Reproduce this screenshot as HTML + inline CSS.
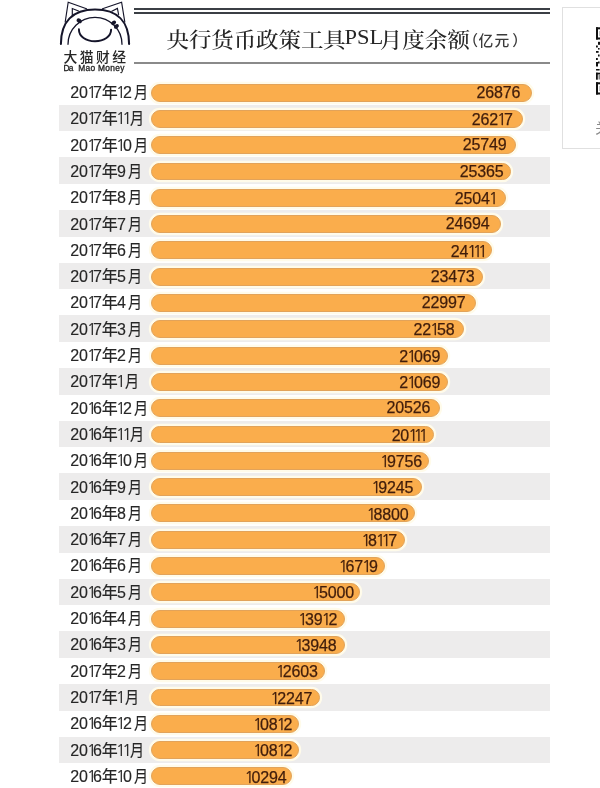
<!DOCTYPE html>
<html><head><meta charset="utf-8">
<style>
*{margin:0;padding:0;box-sizing:border-box}
html,body{width:600px;height:788px;overflow:hidden;background:#fff}
body{position:relative;font-family:"Liberation Sans","Noto Sans CJK SC",sans-serif}
#w{position:absolute;left:0;top:0;width:600px;height:788px;will-change:transform}
.st{position:absolute;left:58.6px;width:491.5px;height:26.5px;background:#edecec}
.bar{position:absolute;left:151px;height:17.9px;border-radius:9px;background:#faad4c;border:1.3px solid #e2a35a;box-shadow:0 0 0 2.2px #fffbea}
.lb{position:absolute;left:70.2px;height:20px;line-height:20px;font-size:16px;color:#262626;white-space:nowrap;-webkit-text-stroke:0.15px #262626}
.lb b,.lb u{font-weight:normal;font-family:"Liberation Sans","Noto Sans CJK SC",sans-serif;text-decoration:none}
.lb u{display:inline-block;transform:scaleX(0.88);transform-origin:0 50%}
.nm{position:absolute;height:20px;line-height:20px;font-size:16px;letter-spacing:-0.15px;color:#401d0b;white-space:nowrap;-webkit-text-stroke:0.25px #401d0b}
i{font-style:normal;font-family:"NanumGothic","Liberation Sans",sans-serif}
s{text-decoration:none}
.dl{position:absolute;left:134px;width:416px;height:2px;background:#3b3f45}
.sl{position:absolute;left:134px;width:416px;height:2px;top:62px;background:#8a8a8a}
.t{position:absolute;top:26.8px;font-family:"Liberation Serif","Noto Serif CJK SC",serif;font-weight:500;font-size:22.5px;line-height:30px;color:#262626;white-space:nowrap;transform:scaleY(0.93);transform-origin:0 0}
.t2{position:absolute;top:31px;font-family:"Liberation Sans","Noto Sans CJK SC",sans-serif;font-weight:500;font-size:14.8px;line-height:20px;color:#3a3a3a;white-space:nowrap}
.brand{position:absolute;left:63.6px;top:49.2px;font-family:"Liberation Sans","Noto Sans CJK SC",sans-serif;font-weight:500;font-size:13.8px;line-height:18px;letter-spacing:2.4px;color:#262626;white-space:nowrap}
.en{position:absolute;top:62.8px;font-size:8.4px;line-height:10px;color:#222;font-weight:normal;letter-spacing:-0.15px;white-space:nowrap;-webkit-text-stroke:0.3px #222}
.box{position:absolute;left:562px;top:7.2px;width:60px;height:141.4px;border:1.3px solid #e0e0e0;background:#fff}
.qr{position:absolute;left:596px;top:26.5px}
.gz{position:absolute;left:595.2px;top:119.6px;font-family:"Liberation Sans","Noto Sans CJK SC",sans-serif;font-size:13.5px;line-height:18px;color:#8a8a8a}
</style></head><body><div id="w">
<div class="dl" style="top:8.3px"></div>
<div class="dl" style="top:12px"></div>
<div class="sl"></div>
<div class="t" style="left:166.5px;letter-spacing:-0.1px">央行货币政策工具</div>
<div class="t" style="left:344.5px;font-family:'Liberation Serif',serif;font-weight:normal;transform:scale(1,0.96);transform-origin:0 0;top:22.6px">PSL</div>
<div class="t" style="left:379.7px">月度余</div>
<div class="t" style="left:447.5px">额</div>
<div class="t2" style="left:463.3px">（</div>
<div class="t2" style="left:478.5px">亿</div>
<div class="t2" style="left:494.4px">元</div>
<div class="t2" style="left:512.2px">）</div>
<svg style="position:absolute;left:0;top:0" width="140" height="50" viewBox="0 0 140 50" fill="none" stroke="#15152a" stroke-linecap="round" stroke-linejoin="miter">
<path d="M60.9,44 C60.9,21.6 72.6,9.5 95,9.5 C117.4,9.5 129.1,21.6 129.1,44" stroke-width="2.05"/>
<path d="M68,44.3 A27,27 0 0 1 122,44.3" stroke-width="1.3"/>
<path d="M65.2,22 L68.2,2.2 L86.5,8.8" stroke-width="1.15"/>
<path d="M124.8,22 L121.6,2.2 L102.5,8.8" stroke-width="1.15"/>
<path d="M72.3,15.5 L72.3,8.5 L78.5,11" stroke-width="1.15"/>
<path d="M118.6,14.5 L117.4,8.4 L111.8,11.2" stroke-width="1.15"/>
<path d="M78.9,29.2 C78.9,36.6 86,41.3 95,41.3 C104,41.3 111.1,36.6 111.1,29.6" stroke-width="1.95"/>
<g fill="#15152a" stroke="none">
<ellipse cx="79.2" cy="20.8" rx="2.9" ry="2.1" transform="rotate(35 79.2 20.8)"/>
<ellipse cx="113.6" cy="22.8" rx="2.7" ry="2" transform="rotate(-35 113.6 22.8)"/>
<ellipse cx="116.4" cy="26.4" rx="2.7" ry="2" transform="rotate(-35 116.4 26.4)"/>
</g>
</svg>
<div class="brand">大猫财经</div>
<div class="en" style="left:63.5px;letter-spacing:-0.7px">Da</div><div class="en" style="left:78.3px;letter-spacing:0.25px">Mao</div><div class="en" style="left:98px;letter-spacing:0.3px">Money</div>
<div class="box"></div>
<svg class="qr" width="4" height="70" viewBox="0 0 4 70">
<g fill="#111">
<rect x="0" y="0.3" width="4" height="2"/><rect x="0" y="0.3" width="2" height="12.2"/><rect x="0" y="10.5" width="4" height="2"/><rect x="3.6" y="4" width="0.4" height="5" fill="#777"/>
<rect x="0" y="55.3" width="4" height="2"/><rect x="0" y="55.3" width="2" height="12.2"/><rect x="0" y="65.5" width="4" height="2"/><rect x="3.6" y="59" width="0.4" height="5" fill="#777"/>
<rect x="2" y="14.8" width="2" height="3"/><rect x="0" y="18.5" width="1.8" height="2"/><rect x="2" y="21" width="1.6" height="1.6"/>
<rect x="0" y="24" width="2.6" height="1.8"/><rect x="2" y="27.5" width="1.6" height="2"/><rect x="0" y="31" width="1.8" height="2"/>
<rect x="2" y="34.5" width="1.6" height="2"/><rect x="0" y="35" width="2" height="4.5"/><rect x="0" y="42" width="3.6" height="1.5"/>
<rect x="0" y="45.7" width="4" height="1.8"/><rect x="0" y="45.7" width="1.8" height="7"/><rect x="2.5" y="47.5" width="1.5" height="5" fill="#888"/>
</g></svg>
<div class="gz">关</div>
<div class="st" style="top:104.83px"></div>
<div class="st" style="top:157.49px"></div>
<div class="st" style="top:210.15px"></div>
<div class="st" style="top:262.81px"></div>
<div class="st" style="top:315.47px"></div>
<div class="st" style="top:368.13px"></div>
<div class="st" style="top:420.79px"></div>
<div class="st" style="top:473.45px"></div>
<div class="st" style="top:526.11px"></div>
<div class="st" style="top:578.77px"></div>
<div class="st" style="top:631.43px"></div>
<div class="st" style="top:684.09px"></div>
<div class="st" style="top:736.75px"></div>
<div class="bar" style="top:83.65px;width:381.00px"></div>
<div class="bar" style="top:109.95px;width:371.50px"></div>
<div class="bar" style="top:136.25px;width:365.30px"></div>
<div class="bar" style="top:162.55px;width:359.80px"></div>
<div class="bar" style="top:188.85px;width:354.80px"></div>
<div class="bar" style="top:215.15px;width:349.80px"></div>
<div class="bar" style="top:241.45px;width:341.00px"></div>
<div class="bar" style="top:267.75px;width:331.50px"></div>
<div class="bar" style="top:294.05px;width:325.30px"></div>
<div class="bar" style="top:320.35px;width:312.70px"></div>
<div class="bar" style="top:346.65px;width:297.00px"></div>
<div class="bar" style="top:372.95px;width:297.00px"></div>
<div class="bar" style="top:399.25px;width:289.30px"></div>
<div class="bar" style="top:425.55px;width:282.70px"></div>
<div class="bar" style="top:451.85px;width:277.70px"></div>
<div class="bar" style="top:478.15px;width:270.70px"></div>
<div class="bar" style="top:504.45px;width:264.30px"></div>
<div class="bar" style="top:530.75px;width:254.00px"></div>
<div class="bar" style="top:557.05px;width:233.70px"></div>
<div class="bar" style="top:583.35px;width:208.70px"></div>
<div class="bar" style="top:609.65px;width:193.50px"></div>
<div class="bar" style="top:635.95px;width:193.50px"></div>
<div class="bar" style="top:662.25px;width:173.50px"></div>
<div class="bar" style="top:688.55px;width:168.70px"></div>
<div class="bar" style="top:714.85px;width:147.70px"></div>
<div class="bar" style="top:741.15px;width:147.70px"></div>
<div class="bar" style="top:767.45px;width:140.70px"></div>
<div class="lb" style="top:82.00px">20<i style="margin-left:-0.9px;margin-right:-3.7px;">1</i>7<b style="margin-left:-0.3px;">年</b><i style="margin-left:-1.7px;margin-right:-2.7px;">1</i>2<u style="margin-left:1.7px;">月</u></div>
<div class="nm" style="top:82.70px;right:79.80px">26876</div>
<div class="lb" style="top:108.30px">20<i style="margin-left:-0.9px;margin-right:-3.7px;">1</i>7<b style="margin-left:-0.3px;">年</b><i style="margin-left:-1.7px;margin-right:-2.7px;">1</i><i style="margin-left:-0.9px;margin-right:-3.7px;">1</i><u style="margin-left:2.3px;">月</u></div>
<div class="nm" style="top:109.00px;right:87.30px">262<i style="margin-left:-1.0px;margin-right:-2.6px;">1</i>7</div>
<div class="lb" style="top:134.60px">20<i style="margin-left:-0.9px;margin-right:-3.7px;">1</i>7<b style="margin-left:-0.3px;">年</b><i style="margin-left:-1.7px;margin-right:-2.7px;">1</i>0<u style="margin-left:1.7px;">月</u></div>
<div class="nm" style="top:135.30px;right:93.50px">25749</div>
<div class="lb" style="top:160.90px">20<i style="margin-left:-0.9px;margin-right:-3.7px;">1</i>7<b style="margin-left:-0.3px;">年</b><s style="margin-left:-0.8px;">9</s><u style="margin-left:1.7px;">月</u></div>
<div class="nm" style="top:161.60px;right:96.50px">25365</div>
<div class="lb" style="top:187.20px">20<i style="margin-left:-0.9px;margin-right:-3.7px;">1</i>7<b style="margin-left:-0.3px;">年</b><s style="margin-left:-0.8px;">8</s><u style="margin-left:1.7px;">月</u></div>
<div class="nm" style="top:187.90px;right:104.80px">2504<i style="margin-left:-1.0px;margin-right:-3.2px;">1</i></div>
<div class="lb" style="top:213.50px">20<i style="margin-left:-0.9px;margin-right:-3.7px;">1</i>7<b style="margin-left:-0.3px;">年</b><s style="margin-left:-0.8px;">7</s><u style="margin-left:1.7px;">月</u></div>
<div class="nm" style="top:214.20px;right:110.60px">24694</div>
<div class="lb" style="top:239.80px">20<i style="margin-left:-0.9px;margin-right:-3.7px;">1</i>7<b style="margin-left:-0.3px;">年</b><s style="margin-left:-0.8px;">6</s><u style="margin-left:1.7px;">月</u></div>
<div class="nm" style="top:240.50px;right:115.60px">24<i style="margin-left:-1.0px;margin-right:-3.2px;">1</i><i style="margin-left:-1.0px;margin-right:-3.2px;">1</i><i style="margin-left:-1.0px;margin-right:-3.2px;">1</i></div>
<div class="lb" style="top:266.10px">20<i style="margin-left:-0.9px;margin-right:-3.7px;">1</i>7<b style="margin-left:-0.3px;">年</b><s style="margin-left:-0.8px;">5</s><u style="margin-left:1.7px;">月</u></div>
<div class="nm" style="top:266.80px;right:125.60px">23473</div>
<div class="lb" style="top:292.40px">20<i style="margin-left:-0.9px;margin-right:-3.7px;">1</i>7<b style="margin-left:-0.3px;">年</b><s style="margin-left:-0.8px;">4</s><u style="margin-left:1.7px;">月</u></div>
<div class="nm" style="top:293.10px;right:134.50px">22997</div>
<div class="lb" style="top:318.70px">20<i style="margin-left:-0.9px;margin-right:-3.7px;">1</i>7<b style="margin-left:-0.3px;">年</b><s style="margin-left:-0.8px;">3</s><u style="margin-left:1.7px;">月</u></div>
<div class="nm" style="top:319.40px;right:145.60px">22<i style="margin-left:-1.0px;margin-right:-2.6px;">1</i>58</div>
<div class="lb" style="top:345.00px">20<i style="margin-left:-0.9px;margin-right:-3.7px;">1</i>7<b style="margin-left:-0.3px;">年</b><s style="margin-left:-0.8px;">2</s><u style="margin-left:1.7px;">月</u></div>
<div class="nm" style="top:345.70px;right:159.80px">2<i style="margin-left:-1.0px;margin-right:-2.6px;">1</i>069</div>
<div class="lb" style="top:371.30px">20<i style="margin-left:-0.9px;margin-right:-3.7px;">1</i>7<b style="margin-left:-0.3px;">年</b><i style="margin-left:-1.7px;margin-right:-2.7px;">1</i><u style="margin-left:2.3px;">月</u></div>
<div class="nm" style="top:372.00px;right:159.80px">2<i style="margin-left:-1.0px;margin-right:-2.6px;">1</i>069</div>
<div class="lb" style="top:397.60px">20<i style="margin-left:-0.9px;margin-right:-3.7px;">1</i>6<b style="margin-left:-0.3px;">年</b><i style="margin-left:-1.7px;margin-right:-2.7px;">1</i>2<u style="margin-left:1.7px;">月</u></div>
<div class="nm" style="top:398.30px;right:169.80px">20526</div>
<div class="lb" style="top:423.90px">20<i style="margin-left:-0.9px;margin-right:-3.7px;">1</i>6<b style="margin-left:-0.3px;">年</b><i style="margin-left:-1.7px;margin-right:-2.7px;">1</i><i style="margin-left:-0.9px;margin-right:-3.7px;">1</i><u style="margin-left:2.3px;">月</u></div>
<div class="nm" style="top:424.60px;right:174.80px">20<i style="margin-left:-1.0px;margin-right:-3.2px;">1</i><i style="margin-left:-1.0px;margin-right:-3.2px;">1</i><i style="margin-left:-1.0px;margin-right:-3.2px;">1</i></div>
<div class="lb" style="top:450.20px">20<i style="margin-left:-0.9px;margin-right:-3.7px;">1</i>6<b style="margin-left:-0.3px;">年</b><i style="margin-left:-1.7px;margin-right:-2.7px;">1</i>0<u style="margin-left:1.7px;">月</u></div>
<div class="nm" style="top:450.90px;right:178.10px"><i style="margin-left:-1.0px;margin-right:-2.6px;">1</i>9756</div>
<div class="lb" style="top:476.50px">20<i style="margin-left:-0.9px;margin-right:-3.7px;">1</i>6<b style="margin-left:-0.3px;">年</b><s style="margin-left:-0.8px;">9</s><u style="margin-left:1.7px;">月</u></div>
<div class="nm" style="top:477.20px;right:186.80px"><i style="margin-left:-1.0px;margin-right:-2.6px;">1</i>9245</div>
<div class="lb" style="top:502.80px">20<i style="margin-left:-0.9px;margin-right:-3.7px;">1</i>6<b style="margin-left:-0.3px;">年</b><s style="margin-left:-0.8px;">8</s><u style="margin-left:1.7px;">月</u></div>
<div class="nm" style="top:503.50px;right:191.50px"><i style="margin-left:-1.0px;margin-right:-2.6px;">1</i>8800</div>
<div class="lb" style="top:529.10px">20<i style="margin-left:-0.9px;margin-right:-3.7px;">1</i>6<b style="margin-left:-0.3px;">年</b><s style="margin-left:-0.8px;">7</s><u style="margin-left:1.7px;">月</u></div>
<div class="nm" style="top:529.80px;right:203.10px"><i style="margin-left:-1.0px;margin-right:-2.6px;">1</i>8<i style="margin-left:-1.0px;margin-right:-3.2px;">1</i><i style="margin-left:-1.0px;margin-right:-2.6px;">1</i>7</div>
<div class="lb" style="top:555.40px">20<i style="margin-left:-0.9px;margin-right:-3.7px;">1</i>6<b style="margin-left:-0.3px;">年</b><s style="margin-left:-0.8px;">6</s><u style="margin-left:1.7px;">月</u></div>
<div class="nm" style="top:556.10px;right:222.30px"><i style="margin-left:-1.0px;margin-right:-2.6px;">1</i>67<i style="margin-left:-1.0px;margin-right:-2.6px;">1</i>9</div>
<div class="lb" style="top:581.70px">20<i style="margin-left:-0.9px;margin-right:-3.7px;">1</i>6<b style="margin-left:-0.3px;">年</b><s style="margin-left:-0.8px;">5</s><u style="margin-left:1.7px;">月</u></div>
<div class="nm" style="top:582.40px;right:246.10px"><i style="margin-left:-1.0px;margin-right:-2.6px;">1</i>5000</div>
<div class="lb" style="top:608.00px">20<i style="margin-left:-0.9px;margin-right:-3.7px;">1</i>6<b style="margin-left:-0.3px;">年</b><s style="margin-left:-0.8px;">4</s><u style="margin-left:1.7px;">月</u></div>
<div class="nm" style="top:608.70px;right:262.80px"><i style="margin-left:-1.0px;margin-right:-2.6px;">1</i>39<i style="margin-left:-1.0px;margin-right:-2.6px;">1</i>2</div>
<div class="lb" style="top:634.30px">20<i style="margin-left:-0.9px;margin-right:-3.7px;">1</i>6<b style="margin-left:-0.3px;">年</b><s style="margin-left:-0.8px;">3</s><u style="margin-left:1.7px;">月</u></div>
<div class="nm" style="top:635.00px;right:263.50px"><i style="margin-left:-1.0px;margin-right:-2.6px;">1</i>3948</div>
<div class="lb" style="top:660.60px">20<i style="margin-left:-0.9px;margin-right:-3.7px;">1</i>7<b style="margin-left:-0.3px;">年</b><s style="margin-left:-0.8px;">2</s><u style="margin-left:1.7px;">月</u></div>
<div class="nm" style="top:661.30px;right:282.30px"><i style="margin-left:-1.0px;margin-right:-2.6px;">1</i>2603</div>
<div class="lb" style="top:686.90px">20<i style="margin-left:-0.9px;margin-right:-3.7px;">1</i>7<b style="margin-left:-0.3px;">年</b><i style="margin-left:-1.7px;margin-right:-2.7px;">1</i><u style="margin-left:2.3px;">月</u></div>
<div class="nm" style="top:687.60px;right:287.80px"><i style="margin-left:-1.0px;margin-right:-2.6px;">1</i>2247</div>
<div class="lb" style="top:713.20px">20<i style="margin-left:-0.9px;margin-right:-3.7px;">1</i>6<b style="margin-left:-0.3px;">年</b><i style="margin-left:-1.7px;margin-right:-2.7px;">1</i>2<u style="margin-left:1.7px;">月</u></div>
<div class="nm" style="top:713.90px;right:307.80px"><i style="margin-left:-1.0px;margin-right:-2.6px;">1</i>08<i style="margin-left:-1.0px;margin-right:-2.6px;">1</i>2</div>
<div class="lb" style="top:739.50px">20<i style="margin-left:-0.9px;margin-right:-3.7px;">1</i>6<b style="margin-left:-0.3px;">年</b><i style="margin-left:-1.7px;margin-right:-2.7px;">1</i><i style="margin-left:-0.9px;margin-right:-3.7px;">1</i><u style="margin-left:2.3px;">月</u></div>
<div class="nm" style="top:740.20px;right:307.80px"><i style="margin-left:-1.0px;margin-right:-2.6px;">1</i>08<i style="margin-left:-1.0px;margin-right:-2.6px;">1</i>2</div>
<div class="lb" style="top:765.80px">20<i style="margin-left:-0.9px;margin-right:-3.7px;">1</i>6<b style="margin-left:-0.3px;">年</b><i style="margin-left:-1.7px;margin-right:-2.7px;">1</i>0<u style="margin-left:1.7px;">月</u></div>
<div class="nm" style="top:766.50px;right:313.50px"><i style="margin-left:-1.0px;margin-right:-2.6px;">1</i>0294</div>
</div></body></html>
